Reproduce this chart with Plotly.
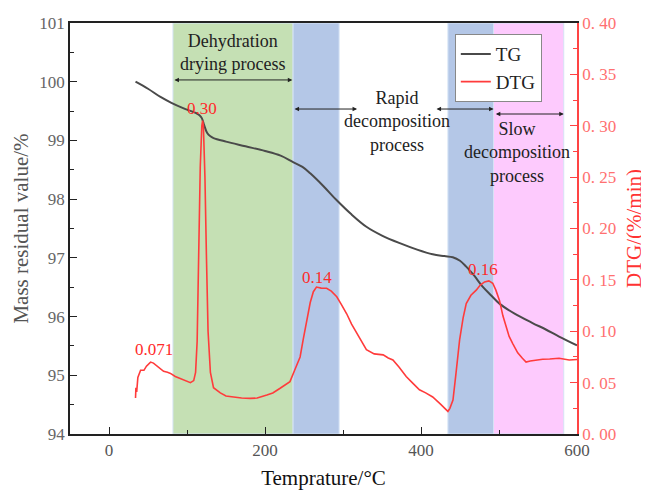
import plotly.graph_objects as go

# TG data
tg_T = [34, 50, 66, 80, 95, 111, 116, 119, 122, 125.7, 130, 134, 150, 175, 200, 220, 236, 248, 258, 275, 292,
        310, 330, 350, 372.8, 395, 415, 430, 440.7, 450, 458, 468, 479, 490, 500.6, 520, 543, 560, 577, 600]
tg_v = [100.0, 99.88, 99.74, 99.64, 99.55, 99.47, 99.43, 99.38, 99.26, 99.13, 99.07, 99.04, 98.98, 98.9, 98.82,
        98.74, 98.63, 98.55, 98.44, 98.22, 97.98, 97.75, 97.53, 97.38, 97.25, 97.14, 97.06, 97.03, 97.01, 96.95,
        96.85, 96.70, 96.51, 96.36, 96.22, 96.05, 95.89, 95.78, 95.66, 95.51]

# DTG data
dtg_T = [34, 34.5, 35.5, 37, 40.5, 44.8, 48, 53.3, 57, 61.8, 66, 70, 75, 78.8, 85, 91.6, 98, 104.4, 108.6, 111,
         113, 115, 117, 119, 120, 121, 123, 125, 127, 130, 134, 142.7, 150, 159.7, 170, 181, 190, 202.4, 210,
         219.4, 226, 232, 238, 245, 249, 253.5, 258, 262, 266, 272, 279, 285, 292, 298, 304.7, 311, 317.5, 324,
         330, 340, 351.5, 358, 364, 372, 381, 390, 398, 406, 415, 425, 434.5, 437, 441, 445, 449.5, 454, 458,
         464, 470.8, 476, 481.5, 487, 492, 496, 500.6, 505, 509, 513, 517.6, 524, 530, 534.7, 540, 548, 556,
         565, 577, 590, 600]
dtg_v = [0.035, 0.045, 0.041, 0.055, 0.062, 0.062, 0.066, 0.070, 0.069, 0.066, 0.063, 0.061, 0.060, 0.059,
         0.056, 0.054, 0.052, 0.050, 0.052, 0.06, 0.09, 0.18, 0.26, 0.30, 0.305, 0.30, 0.25, 0.17, 0.10, 0.06,
         0.045, 0.040, 0.037, 0.036, 0.035, 0.0347, 0.035, 0.038, 0.040, 0.0445, 0.048, 0.051, 0.062, 0.075,
         0.092, 0.111, 0.128, 0.1385, 0.143, 0.142, 0.1418, 0.139, 0.1336, 0.126, 0.117, 0.107, 0.098, 0.089,
         0.082, 0.078, 0.077, 0.074, 0.072, 0.065, 0.056, 0.049, 0.043, 0.040, 0.036, 0.029, 0.022, 0.025,
         0.033, 0.06, 0.0915, 0.113, 0.127, 0.135, 0.140, 0.145, 0.148, 0.149, 0.1467, 0.140, 0.130, 0.115,
         0.104, 0.095, 0.088, 0.079, 0.0737, 0.070, 0.071, 0.072, 0.0727, 0.073, 0.0737, 0.072, 0.0725]

# Stage bands (x ranges)
band_x0 = [82, 236, 434.5, 493]
band_x1 = [236, 295, 493, 583]
band_col = ["#c5e0b4", "#b4c7e7", "#b4c7e7", "#fdcafd"]

peak_labels = ["0.071", "0.30", "0.14", "0.16"]
peak_T = [57.8, 119.4, 266.7, 479.5]
peak_y = [0.0818, 0.317, 0.152, 0.160]

stage_labels = ["Dehydration<br>drying process", "Rapid<br>decomposition<br>process",
                "Slow<br>decomposition<br>process"]
stage_T = [157.7, 369, 523.6]
stage_y = [0.928, 0.760, 0.684]

y2_vals = [0, 0.05, 0.10, 0.15, 0.20, 0.25, 0.30, 0.35, 0.40]
y2_text = ["0. 00", "0. 05", "0. 10", "0. 15", "0. 20", "0. 25", "0. 30", "0. 35", "0. 40"]

FONT = "Liberation Serif"
fig = go.Figure()
fig.add_trace(go.Scatter(x=tg_T, y=tg_v, mode="lines", name="TG",
                         line=dict(color="#4a4a4a", width=2), line_shape="spline"))
fig.add_trace(go.Scatter(x=dtg_T, y=dtg_v, mode="lines", name="DTG", yaxis="y2",
                         line=dict(color="#ff3b3b", width=1.6)))

shapes = []
for x0, x1, c in zip(band_x0, band_x1, band_col):
    shapes.append(dict(type="rect", xref="x", yref="paper", x0=x0, x1=x1, y0=0, y1=1,
                       fillcolor=c, line=dict(color="#d5e3f5", width=1), layer="below"))

annotations = []
for t, x, y in zip(peak_labels, peak_T, peak_y):
    annotations.append(dict(x=x, y=y, xref="x", yref="y2", text=t, showarrow=False,
                            xanchor="center", yanchor="middle",
                            font=dict(family=FONT, size=17, color="#ff2a2a")))

for t, x, y in zip(stage_labels, stage_T, stage_y):
    annotations.append(dict(x=x, y=y, xref="x", yref="paper", text=t, showarrow=False,
                            xanchor="center", yanchor="middle",
                            font=dict(family=FONT, size=18, color="#222222")))

arrows = [(82, 235, 100.03), (236, 318, 99.535), (418, 493, 99.535), (494, 583, 99.45)]
for a0, a1, y in arrows:
    annotations.append(dict(x=a1, y=y, ax=a0, ay=y, xref="x", yref="y", axref="x", ayref="y",
                            text="", showarrow=True, arrowhead=2, arrowside="end+start",
                            arrowsize=0.9, arrowwidth=1, arrowcolor="#222222", startarrowhead=2,
                            startarrowsize=0.9))

fig.update_layout(
    width=641, height=482,
    margin=dict(l=62, r=72, t=15, b=56),
    plot_bgcolor="white", paper_bgcolor="white",
    font=dict(family=FONT, size=17, color="#555555"),
    shapes=shapes, annotations=annotations,
    showlegend=True,
    legend=dict(x=0.759, y=0.973, xanchor="left", yanchor="top",
                bordercolor="#888888", borderwidth=1, bgcolor="white",
                font=dict(family=FONT, size=19, color="#222222"), tracegroupgap=0),
    xaxis=dict(range=[-50, 600], tickvals=[0, 200, 400, 600], showline=True, linecolor="#222222",
               linewidth=1.5, mirror=True, ticks="inside", ticklen=7, tickcolor="#222222",
               showgrid=False, zeroline=False, automargin=False,
               minor=dict(tickvals=[100, 300, 500], ticks="inside", ticklen=4, tickcolor="#222222"),
               title=dict(text="Temprature/°C", font=dict(family=FONT, size=21, color="#111111"), standoff=22),
               tickfont=dict(color="#555555", size=17)),
    yaxis=dict(range=[94, 101], dtick=1, showline=True, linecolor="#222222", linewidth=1.5,
               ticks="inside", ticklen=7, tickcolor="#222222", showgrid=False, zeroline=False,
               automargin=False,
               minor=dict(dtick=0.5, ticks="inside", ticklen=4, tickcolor="#222222"),
               title=dict(text="Mass residual value/%", font=dict(family=FONT, size=21, color="#555555"),
                          standoff=5),
               tickfont=dict(color="#666666", size=17)),
    yaxis2=dict(range=[0, 0.40], overlaying="y", side="right", tickvals=y2_vals, ticktext=y2_text,
                showline=True, linecolor="#ff4444", linewidth=1.5, ticks="inside", ticklen=7,
                tickcolor="#ff4444", showgrid=False, zeroline=False, automargin=False,
                minor=dict(dtick=0.025, ticks="inside", ticklen=4, tickcolor="#ff4444"),
                title=dict(text="DTG/(%/min)", font=dict(family=FONT, size=21, color="#ff3333"), standoff=11),
                tickfont=dict(color="#ff7070", size=17)),
)

fig.write_html("out.html")
